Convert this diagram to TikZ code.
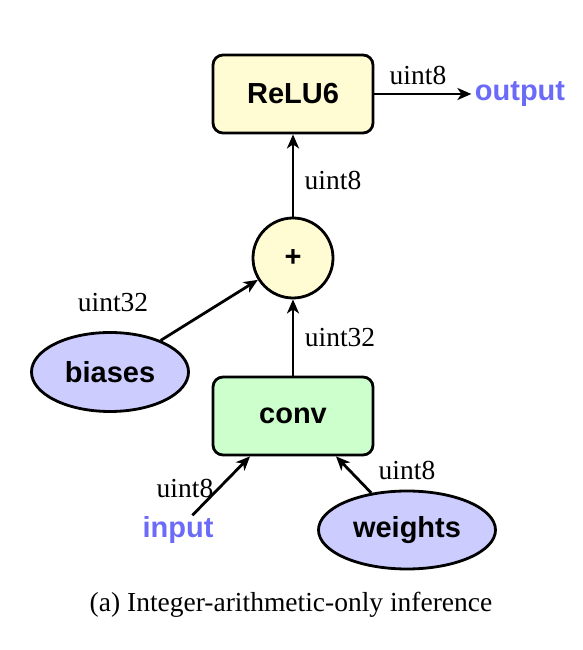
\documentclass[tikz,border=0pt]{standalone}
\usepackage{fontspec}
\setmainfont{Liberation Serif}
\setsansfont{Liberation Sans}
\usepackage{tikz}
\usetikzlibrary{arrows.meta,shapes.geometric}

\definecolor{opyellow}{HTML}{FFFCD3}
\definecolor{opgreen}{HTML}{CCFFCC}
\definecolor{tenblue}{HTML}{CCCCFF}
\definecolor{ioblue}{HTML}{6B6BF7}

\tikzset{
  op/.style={draw,line width=2.8pt,rounded corners=10pt,minimum width=160pt,minimum height=78pt,
    font=\fontsize{29}{34}\sffamily\bfseries},
  tensor/.style={draw,ellipse,line width=2.8pt,fill=tenblue,inner sep=0pt,
    font=\fontsize{29}{34}\sffamily\bfseries},
  io/.style={text=ioblue,font=\fontsize{29}{34}\sffamily\bfseries},
  dtype/.style={font=\fontsize{27.5}{32}\selectfont},
  flow/.style={line width=2.8pt,-{Stealth[length=14pt,width=12pt,inset=4pt]}}
}

\begin{document}
\begin{tikzpicture}[x=1pt,y=1pt]
    \useasboundingbox (0,0) rectangle (582,650);
    \node[op,fill=opyellow] (relu) at (293,556) {ReLU6};
    \node[io] (output) at (520,556) {output};
    \node[draw,circle,line width=2.8pt,fill=opyellow,minimum size=80pt,
      font=\fontsize{29}{34}\sffamily\bfseries] (plus) at (293,392) {+};
    \node[op,fill=opgreen] (conv) at (293,234) {conv};
    \node[tensor,minimum width=157pt,minimum height=79pt] (biases) at (110,278) {biases};
    \node[io,inner sep=1pt] (input) at (178,120) {input};
    \node[tensor,minimum width=177pt,minimum height=78pt] (weights) at (407,120) {weights};

    \node[dtype] (t1) at (418,575) {uint8};
    \node[dtype] (t2) at (333,470) {uint8};
    \node[dtype] (t3) at (340,312) {uint32};
    \node[dtype] (t4) at (113,347) {uint32};
    \node[dtype] (t5) at (185,162) {uint8};
    \node[dtype] (t6) at (407,180) {uint8};

    \draw[flow] (relu) -- (output);
    \draw[flow] (plus) -- (relu);
    \draw[flow] (conv) -- (plus);
    \draw[flow] (biases) -- (plus);
    \draw[flow] (input) -- ([xshift=-43pt]conv.south);
    \draw[flow] (weights) -- ([xshift=43pt]conv.south);

    \node[dtype] (caption) at (291,45) {(a) Integer-arithmetic-only inference};
\end{tikzpicture}
\end{document}
